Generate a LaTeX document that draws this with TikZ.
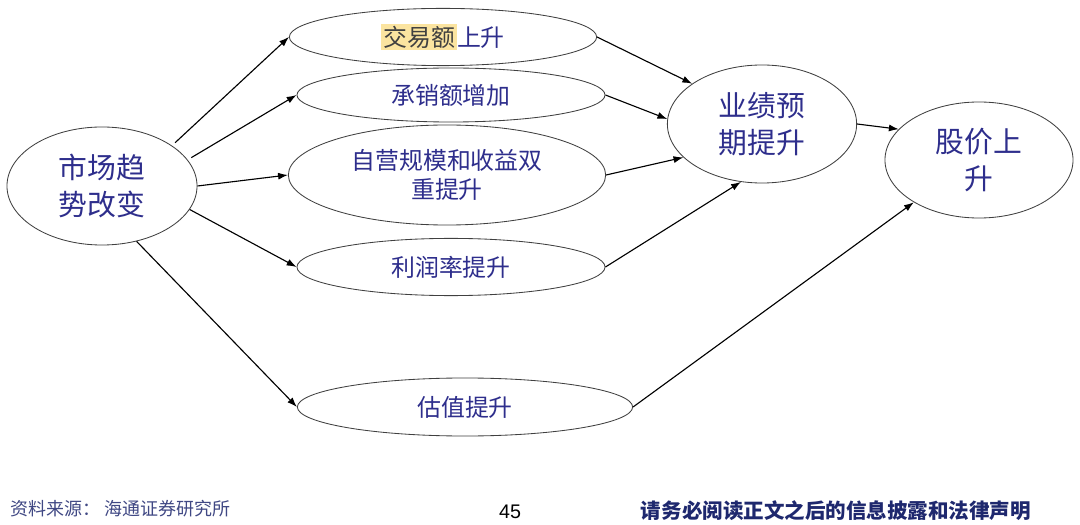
\documentclass[tikz,border=0pt]{standalone}
\usepackage{fontspec}
\setmainfont{Noto Sans CJK SC}
\newfontfamily\numfont{Liberation Sans}
\usepackage{xcolor}
\usetikzlibrary{arrows.meta, shapes.geometric}
\definecolor{txtblue}{RGB}{46,46,140}
\definecolor{hlyellow}{RGB}{251,228,160}
\definecolor{footnavy}{RGB}{30,40,110}

\begin{document}
\begin{tikzpicture}[x=0.025cm, y=-0.025cm, >={Latex[length=7pt, width=5pt]},
    oval/.style={draw=black!75, line width=0.6pt, ellipse, inner sep=0pt, align=center,
                 text=txtblue, font=\fontsize{17}{20.5}\selectfont},
    bigoval/.style={oval, font=\fontsize{20.5}{26}\selectfont},
    link/.style={->, line width=0.8pt}]
      \useasboundingbox[fill=white] (0,0) rectangle (1080,525);

      \node[bigoval, minimum width=4.75cm, minimum height=2.95cm] (mkt) at (102,186) {市场趋\\势改变};
      \node[oval, minimum width=7.68cm, minimum height=1.43cm] (jy) at (443,37)
            {{\setlength{\fboxsep}{1.5pt}\colorbox{hlyellow}{\textcolor{black!75}{交易额}}}上升};
      \node[oval, minimum width=7.7cm, minimum height=1.35cm] (cx) at (451,95) {承销额增加};
      \node[oval, minimum width=7.93cm, minimum height=2.5cm] (zy) at (447,175) {自营规模和收益双\\重提升};
      \node[oval, minimum width=7.7cm, minimum height=1.43cm] (lr) at (451,267) {利润率提升};
      \node[oval, minimum width=8.38cm, minimum height=1.45cm] (gz) at (465,407) {估值提升};
      \node[bigoval, minimum width=4.73cm, minimum height=2.95cm] (yj) at (762,124) {业绩预\\期提升};
      \node[bigoval, minimum width=4.7cm, minimum height=2.9cm] (gj) at (979,160) {股价上\\升};

      \draw[link, shorten <=3pt] (mkt.30) -- (jy.west);
      \draw[link, shorten <=3pt] (mkt.17) -- (cx.west);
      \draw[link] (mkt.east) -- (zy.west);
      \draw[link] (mkt.-15) -- (lr.west);
      \draw[link] (mkt.-58) -- (gz.west);
      \draw[link] (jy.east) -- (yj.150);
      \draw[link] (cx.east) -- (yj.177);
      \draw[link] (zy.east) -- (yj.203);
      \draw[link] (lr.east) -- (yj.250);
      \draw[link] (yj.east) -- (gj.159);
      \draw[link] (gz.east) -- (gj.213);

      \node[anchor=west, text=footnavy!85, font=\fontsize{12.8}{15}\selectfont] (src) at (6,509) {资料来源：\ 海通证券研究所};
      \node[font=\numfont\fontsize{14}{16}\selectfont] (pg) at (510,512) {45};
      \node[anchor=east, text=footnavy, font=\fontsize{14.6}{17}\selectfont\bfseries] (note) at (1036,511)
            {请务必阅读正文之后的信息披露和法律声明};
    \end{tikzpicture}
\end{document}
